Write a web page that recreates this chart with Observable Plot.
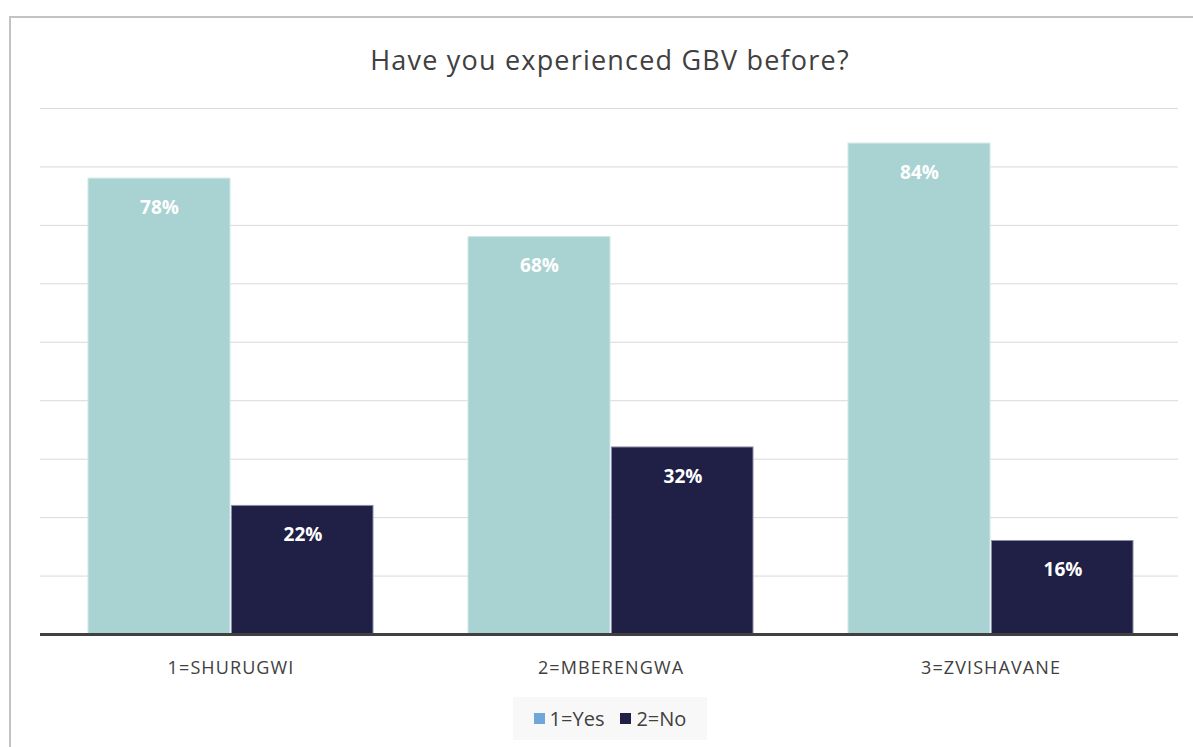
<!DOCTYPE html>
<html>
<head>
<meta charset="utf-8">
<script src="https://cdn.jsdelivr.net/npm/d3@7"></script>
<script src="https://cdn.jsdelivr.net/npm/@observablehq/plot@0.6"></script>
<style>
  html, body { margin: 0; padding: 0; background: #fff; }
  #page { position: relative; width: 1193px; height: 747px; overflow: hidden; font-family: "Open Sans", sans-serif; }
  #frame { position: absolute; left: 9px; top: 16px; width: 1300px; height: 800px; border-left: 2px solid #c3c3c3; border-top: 2px solid #c3c3c3; box-sizing: border-box; }
  #title { position: relative; height: 95px; box-sizing: border-box; padding-top: 44px; width: 1220px; text-align: center; font-family: "Open Sans", sans-serif; font-weight: 400; font-size: 27px; letter-spacing: 1.2px; line-height: 32px; color: #404040; }
  #chart { position: relative; }
  #legend { position: relative; margin-left: 513px; margin-top: 3px; width: 194px; height: 43px; background: #f8f8f8; display: flex; align-items: center; justify-content: center; gap: 16px; font-size: 20px; color: #404040; }
  .item { display: flex; align-items: center; gap: 5px; }
  .sw { width: 11px; height: 11px; display: inline-block; }
</style>
</head>
<body>
<div id="page">
  <div id="frame"></div>
  <div id="title">Have you experienced GBV before?</div>
  <div id="chart"></div>
  <div id="legend"></div>
</div>
<script>
const districts = ["1=SHURUGWI", "2=MBERENGWA", "3=ZVISHAVANE"];
const yesValues = [0.78, 0.68, 0.84];
const noValues = [0.22, 0.32, 0.16];
const seriesNames = ["1=Yes", "2=No"];
const barColors = ["#a9d3d2", "#201f45"];
const legendColors = ["#6fa7db", "#201f45"];
const gridTicks = [0.1, 0.2, 0.3, 0.4, 0.5, 0.6, 0.7, 0.8, 0.9];

const yesData = districts.map((d, i) => ({district: d, value: yesValues[i]}));
const noData = districts.map((d, i) => ({district: d, value: noValues[i]}));
const fmt = d3.format(".0%");

const plot = Plot.plot({
  width: 1193,
  height: 599,
  marginLeft: 40,
  marginRight: 13,
  marginTop: 13,
  marginBottom: 60,
  style: {fontFamily: "'Open Sans', sans-serif", background: "transparent"},
  x: {domain: districts, paddingInner: 0.25, paddingOuter: 0.125, label: null},
  y: {domain: [0, 0.9], axis: null},
  marks: [
    Plot.ruleY(gridTicks, {stroke: "#d9d9d9", strokeWidth: 1, insetRight: 2}),
    Plot.barY(yesData, {x: "district", y: "value", fill: barColors[0], stroke: "#cfe7e6", strokeWidth: 1, insetRight: 143}),
    Plot.barY(noData, {x: "district", y: "value", fill: barColors[1], stroke: "#8b8aa8", strokeWidth: 1, insetLeft: 143.5}),
    Plot.text(yesData, {x: "district", y: "value", text: d => fmt(d.value), dx: -71.5, dy: 29, fill: "white", fontWeight: "bold", fontSize: 19}),
    Plot.text(noData, {x: "district", y: "value", text: d => fmt(d.value), dx: 72, dy: 29, fill: "white", fontWeight: "bold", fontSize: 19}),
    Plot.ruleY([0], {stroke: "#404040", strokeWidth: 3, insetRight: 2}),
    Plot.axisX({tickSize: 0, tickPadding: 27, fontSize: 18, fill: "#404040", label: null})
  ]
});
plot.querySelectorAll("g[aria-label='x-axis tick label'] text").forEach(t => {
  t.setAttribute("fill", "#404040");
  t.style.letterSpacing = "1.1px";
});
document.getElementById("chart").appendChild(plot);

const legend = document.getElementById("legend");
seriesNames.forEach((name, i) => {
  const item = document.createElement("div");
  item.className = "item";
  const sw = document.createElement("span");
  sw.className = "sw";
  sw.style.background = legendColors[i];
  const label = document.createElement("span");
  label.textContent = name;
  item.appendChild(sw);
  item.appendChild(label);
  legend.appendChild(item);
});
</script>
</body>
</html>
